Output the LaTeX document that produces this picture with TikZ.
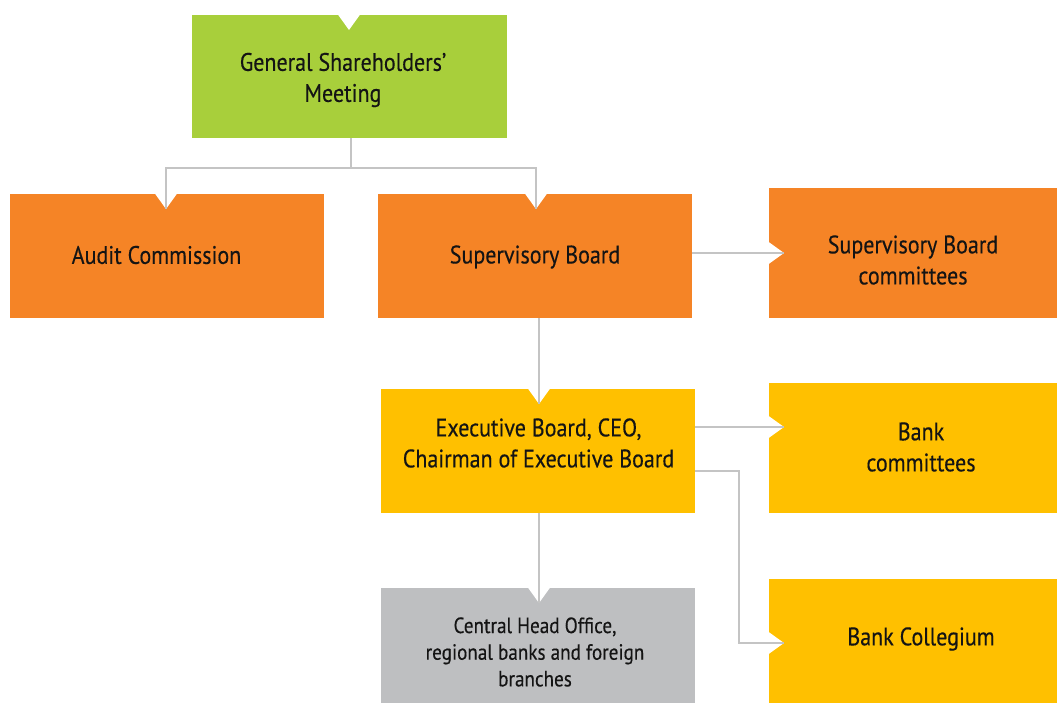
\documentclass[tikz,border=0pt]{standalone}
\usepackage{fontspec}
\setmainfont{PT Sans}[FakeStretch=0.87,FakeBold=0.3]
\usetikzlibrary{calc}
\definecolor{cgreen}{HTML}{A8CF3B}
\definecolor{corange}{HTML}{F58426}
\definecolor{cyellow}{HTML}{FFC000}
\definecolor{cgray}{HTML}{BEBFC1}
\definecolor{cline}{HTML}{C4C4C4}
\definecolor{ctext}{HTML}{141414}
\tikzset{
  box/.style args={#1/#2}{inner sep=0pt, minimum width=#1*0.75pt, minimum height=#2*0.75pt, align=center, text=ctext, font=\fontsize{19}{23.25}\selectfont},
  small/.style={font=\fontsize{16.5}{20}\selectfont},
  conn/.style={draw=cline, line width=0.9pt},
  notch/.style={fill=white}
}
\begin{document}
\begin{tikzpicture}[x=0.75pt,y=-0.75pt]
\useasboundingbox (0,0) rectangle (1057,703);
% boxes
\node[box=315/123, fill=cgreen] (gsm) at (349.5,76.5) {};
\node[box=314/124, fill=corange] (audit) at (167,256) {};
\node[box=314/124, fill=corange] (sb) at (535,256) {};
\node[box=288/130, fill=corange] (sbc) at (913,253) {};
\node[box=314/124, fill=cyellow] (eb) at (538,451) {};
\node[box=288/130, fill=cyellow] (bc) at (913,448) {};
\node[box=314/115, fill=cgray] (cho) at (538,645.5) {};
\node[box=288/124, fill=cyellow] (bcol) at (913,641) {};
% texts
\node[box=1/1] (tgsm) at (343,80) {General Shareholders’\\Meeting};
\node[box=1/1] (taudit) at (156.5,255) {Audit Commission};
\node[box=1/1] (tsb) at (535,257) {Supervisory Board};
\node[box=1/1] (tsbc) at (913,260) {Supervisory Board\\committees};
\node[box=1/1] (teb) at (538.5,443) {Executive Board, CEO,\\Chairman of Executive Board};
\node[box=1/1] (tbc) at (921,447) {Bank\\committees};
\node[box=1/1] (tbcol) at (921,639) {Bank Collegium};
\node[box=1/1, small] (tcho) at (535,652) {Central Head Office,\\regional banks and foreign\\branches};
% notches (white V cuts)
\fill[notch] (337.5,14) -- (360.5,14) -- (349,30) -- cycle;
\fill[notch] (154.5,193) -- (177.5,193) -- (166,209) -- cycle;
\fill[notch] (524.5,193) -- (547.5,193) -- (536,209) -- cycle;
\fill[notch] (768,241.5) -- (768,264.5) -- (784,253) -- cycle;
\fill[notch] (527.5,388) -- (550.5,388) -- (539,404) -- cycle;
\fill[notch] (768,415.5) -- (768,438.5) -- (784,427) -- cycle;
\fill[notch] (527.5,587) -- (550.5,587) -- (539,603) -- cycle;
\fill[notch] (768,631.5) -- (768,654.5) -- (784,643) -- cycle;
% notch tip coordinates
\coordinate (auditN) at (166,209);
\coordinate (sbN) at (536,209);
\coordinate (sbcW) at (784,253);
\coordinate (ebN) at (539,404);
\coordinate (bcW) at (784,427);
\coordinate (choN) at (539,603);
\coordinate (bcolW) at (784,643);
% connectors
\draw[conn] (gsm.south -| 351,0) -- (351,168) -| (auditN);
\draw[conn] (351,168) -| (sbN);
\draw[conn] (sb.east |- sbcW) -- (sbcW);
\draw[conn] (sb.south -| ebN) -- (ebN);
\draw[conn] (eb.east |- bcW) -- (bcW);
\draw[conn] (eb.east |- 0,471) -- (739,471) |- (bcolW);
\draw[conn] (eb.south -| choN) -- (choN);
\end{tikzpicture}
\end{document}
